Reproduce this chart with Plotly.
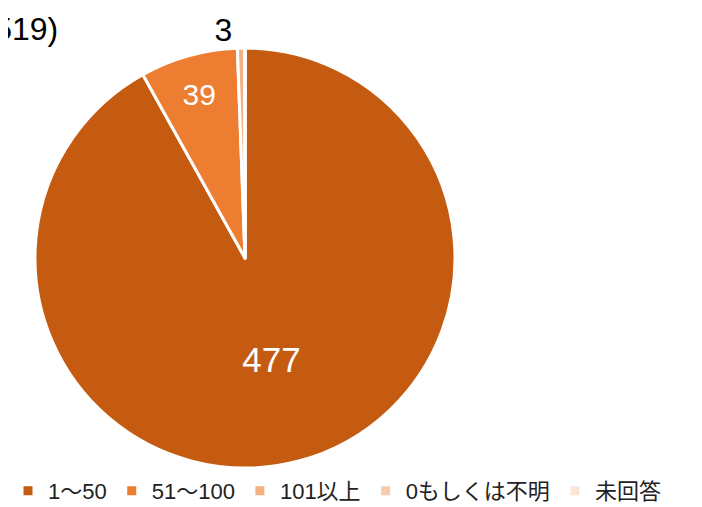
import plotly.graph_objects as go

labels = ["1～50", "51～100", "101以上", "0もしくは不明", "未回答"]
values = [477, 39, 3, 0, 0]
colors = ["#C55A11", "#ED7D31", "#F4B183", "#F8CBAD", "#FBE5D6"]
total_label = "(n=519)"

fig = go.Figure()
fig.add_trace(
    go.Pie(
        labels=labels,
        values=values,
        sort=False,
        direction="clockwise",
        rotation=0,
        marker={"colors": colors, "line": {"color": "white", "width": 3}},
        texttemplate="%{value}",
        textposition=["inside", "inside", "outside", "none", "none"],
        insidetextorientation="horizontal",
        insidetextfont={"color": "white", "size": [35, 30, 30, 30, 30], "family": "Liberation Sans, Arial"},
        outsidetextfont={"color": "black", "size": 32, "family": "Liberation Sans, Arial"},
        hoverinfo="label+value",
        domain={"x": [27 / 702, 447 / 702], "y": [47 / 507, 467 / 507]},
    )
)

fig.add_annotation(
    text=total_label,
    xref="paper",
    yref="paper",
    x=52 / 702,
    y=1 - 21 / 507,
    xanchor="right",
    yanchor="middle",
    showarrow=False,
    font={"size": 32, "color": "black", "family": "Liberation Sans, Arial"},
)

fig.update_layout(
    width=702,
    height=507,
    margin={"l": 0, "r": 0, "t": 0, "b": 0, "autoexpand": False},
    paper_bgcolor="white",
    plot_bgcolor="white",
    font={"family": "Liberation Sans, Noto Sans CJK JP, sans-serif", "color": "#222222"},
    legend={
        "orientation": "h",
        "x": 0,
        "y": 24 / 507,
        "xanchor": "left",
        "yanchor": "middle",
        "font": {"size": 22, "color": "#222222"},
        "itemwidth": 30,
        "traceorder": "normal",
    },
)

fig.write_html("out.html")
